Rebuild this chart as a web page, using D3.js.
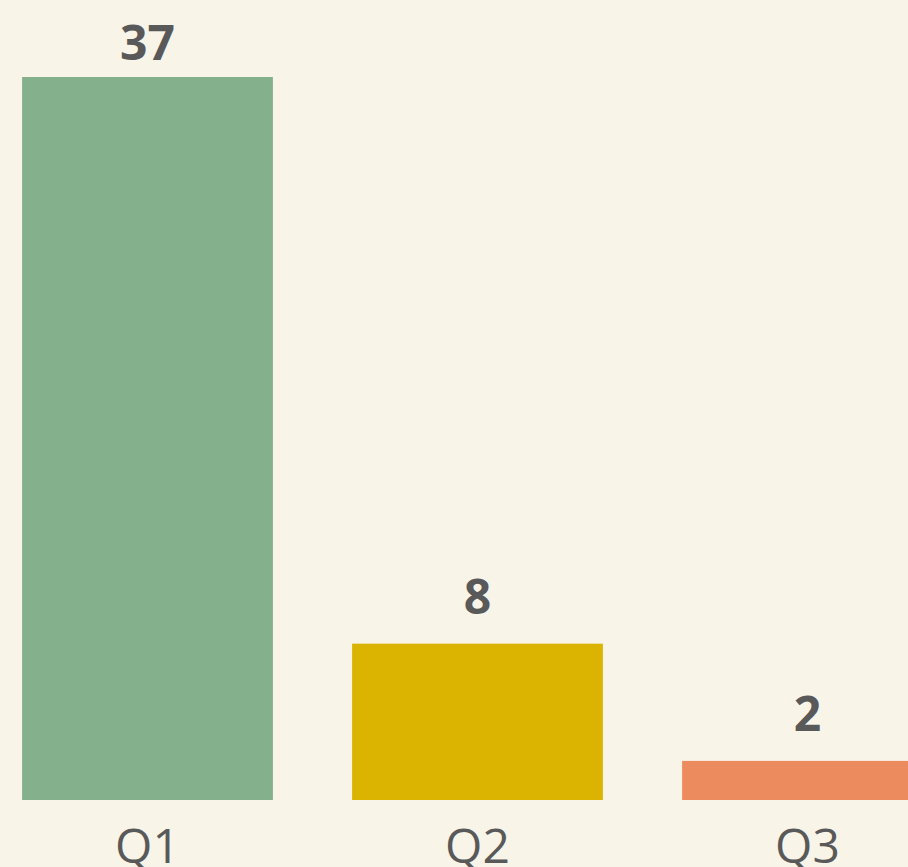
<!DOCTYPE html>
<html>
<head>
<meta charset="utf-8">
<script src="https://cdn.jsdelivr.net/npm/d3@7"></script>
<style>
	html, body { margin: 0; padding: 0; background: #f8f4e8; overflow: hidden; }
	svg { display: block; }
</style>
</head>
<body>
<svg id="chart" width="908" height="867"></svg>
<script>
// Chart data
var categories = ['Q1', 'Q2', 'Q3'];
var values = [37, 8, 2];
var colors = ['#84b08b', '#dab400', '#ec8b5e'];

var svg = d3.select('#chart');
var plotBottom = 800;
var plotTop = 77;

var x = d3.scaleBand()
	.domain(categories)
	.range([-17.5, 972.5])
	.paddingInner(0.24)
	.paddingOuter(0.12);

var y = d3.scaleLinear()
	.domain([0, d3.max(values)])
	.range([plotBottom, plotTop]);

var data = categories.map(function(c, i) {
	return { cat: c, value: values[i], color: colors[i] };
});

var g = svg.append('g');

// Bars
g.selectAll('rect')
	.data(data)
	.enter()
	.append('rect')
	.attr('x', function(d) { return x(d.cat); })
	.attr('y', function(d) { return y(d.value); })
	.attr('width', x.bandwidth())
	.attr('height', function(d) { return plotBottom - y(d.value); })
	.attr('fill', function(d) { return d.color; });

// Value labels (kept inside the top edge for the tallest bar)
g.selectAll('.value')
	.data(data)
	.enter()
	.append('text')
	.attr('class', 'value')
	.attr('x', function(d) { return x(d.cat) + x.bandwidth() / 2; })
	.attr('y', function(d) { return Math.max(y(d.value) - 30, 60); })
	.attr('text-anchor', 'middle')
	.attr('font-family', 'Open Sans, sans-serif')
	.attr('font-weight', 'bold')
	.attr('font-size', 48)
	.attr('fill', '#595959')
	.text(function(d) { return d.value; });

// Category axis
var axis = g.append('g')
	.attr('transform', 'translate(0,' + plotBottom + ')')
	.call(d3.axisBottom(x).tickSize(0).tickPadding(63));

axis.select('.domain').remove();
axis.selectAll('text')
	.attr('dy', 0)
	.attr('font-family', 'Open Sans, sans-serif')
	.attr('font-size', 48)
	.attr('fill', '#595959');
</script>
</body>
</html>
